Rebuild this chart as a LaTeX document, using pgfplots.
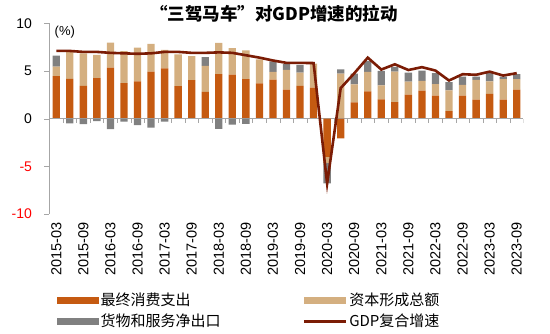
\documentclass[border=0pt]{standalone}
\usepackage{pgfplots}
\pgfplotsset{compat=1.18}
\usepackage{pgfplotstable}
\usepackage{fontspec}
\setmainfont{Liberation Sans}
\newfontfamily\cjk{Noto Sans CJK SC}
\definecolor{cons}{HTML}{C55A11}
\definecolor{capf}{HTML}{D4AF80}
\definecolor{netx}{HTML}{808080}
\definecolor{gdp}{HTML}{7B1C05}
\definecolor{axgray}{HTML}{A6A6A6}
\pgfplotstableread{
i c k n g
0 4.46 1.00 1.15 7.10
1 4.18 2.82 -0.50 7.10
2 3.45 3.39 -0.57 7.00
3 4.25 2.45 -0.25 7.00
4 5.35 2.63 -1.10 6.90
5 3.73 3.35 -0.32 6.85
6 3.90 3.56 -0.68 6.80
7 4.93 2.90 -0.93 6.85
8 5.28 1.92 -0.30 7.00
9 3.42 3.32 0.00 7.00
10 4.05 2.51 0.00 6.90
11 2.80 2.73 0.93 6.90
12 4.66 3.29 -1.07 6.95
13 4.63 2.76 -0.62 6.90
14 4.15 3.00 -0.55 6.65
15 3.70 2.52 0.00 6.40
16 4.10 0.80 1.10 6.10
17 3.05 2.06 0.60 5.85
18 3.45 1.38 0.80 5.85
19 3.25 2.52 0.00 5.83
20 -4.00 -0.60 -2.20 -6.80
21 -2.07 4.73 0.45 3.20
22 1.70 1.90 1.12 4.75
23 2.86 2.05 1.15 6.40
24 2.03 1.47 1.50 5.15
25 1.72 3.21 0.50 5.70
26 2.52 1.35 0.95 5.10
27 2.93 1.04 1.07 5.40
28 2.41 1.22 1.14 5.04
29 0.79 2.18 0.86 4.00
30 2.41 1.14 0.87 4.66
31 2.00 2.07 0.35 4.60
32 2.59 1.31 0.87 4.93
33 2.00 2.14 0.28 4.52
34 3.04 1.10 0.52 4.77
}\datatable
\pgfplotsset{
  barleg/.style={legend image code/.code={\fill[##1] (0pt,-3.5pt) rectangle (42pt,3.5pt);}},
  lineleg/.style={legend image code/.code={\draw[##1] (0pt,0pt) -- (42pt,0pt);}},
  common/.style={
    scale only axis, width=474pt, height=190.7pt,
    xmin=-0.5, xmax=34.5, ymin=-10, ymax=10,
    enlargelimits=false,
  },
}
\begin{document}
\begin{tikzpicture}
\useasboundingbox (-49.5pt,-120pt) rectangle (500.5pt,214pt);
% positive parts of the stacks
\begin{axis}[common,
  ybar stacked, bar width=0.54,
  axis y line*=left, axis x line*=bottom,
  x axis line style={draw=none},
  y axis line style={draw=axgray},
  xtick style={draw=none}, ytick style={draw=axgray},
  tick align=outside, major tick length=5pt,
  ytick={-10,-5,0,5,10},
  yticklabels={\textcolor{red}{-10},\textcolor{red}{-5},0,5,10},
  yticklabel style={font=\fontsize{14}{16}\selectfont, xshift=-9pt},
  xtick={0,2,...,34},
  xticklabels={2015-03,2015-09,2016-03,2016-09,2017-03,2017-09,2018-03,2018-09,2019-03,2019-09,2020-03,2020-09,2021-03,2021-09,2022-03,2022-09,2023-03,2023-09},
  xticklabel style={rotate=90, anchor=east, font=\fontsize{14.5}{16}\selectfont},
  legend columns=2,
  legend style={at={(rel axis cs:0,0)}, anchor=north west, xshift=7pt, yshift=-78pt,
    draw=none, fill=none, inner sep=0pt,
    font=\cjk\fontsize{15}{17}\selectfont,
    nodes={inner xsep=2pt, inner ysep=1pt, text height=12pt, text depth=3pt},
    /tikz/row sep=4pt,
    /tikz/every even column/.append style={column sep=80pt}},
  legend cell align=left,
]
\draw[axgray] (axis cs:-0.5,0) -- (axis cs:34.5,0);
\pgfplotsinvokeforeach{0.5,1.5,...,34.5}{\draw[axgray] (axis cs:#1,0) -- ++(0pt,-4pt);}
\addplot[fill=cons, draw=none, barleg] table[x=i, y expr={max(\thisrow{c},0)}] {\datatable};
\addlegendentry{最终消费支出}
\addplot[fill=capf, draw=none, barleg] table[x=i, y expr={max(\thisrow{k},0)}] {\datatable};
\addlegendentry{资本形成总额}
\addplot[fill=netx, draw=none, barleg] table[x=i, y expr={max(\thisrow{n},0)}] {\datatable};
\addlegendentry{货物和服务净出口}
\addlegendimage{lineleg, draw=gdp, line width=2.6pt}
\addlegendentry{GDP复合增速}
\end{axis}
% negative parts of the stacks
\begin{axis}[common, axis lines=none, ticks=none, ybar stacked, bar width=0.54]
\addplot[fill=cons, draw=none] table[x=i, y expr={min(\thisrow{c},0)}] {\datatable};
\addplot[fill=capf, draw=none] table[x=i, y expr={min(\thisrow{k},0)}] {\datatable};
\addplot[fill=netx, draw=none] table[x=i, y expr={min(\thisrow{n},0)}] {\datatable};
\end{axis}
% GDP line
\begin{axis}[common, axis lines=none, ticks=none]
\addplot[draw=gdp, line width=2.6pt, mark=none] table[x=i, y=g] {\datatable};
\end{axis}
\node[font=\cjk\bfseries\fontsize{17.5}{20}\selectfont] at (224.5pt,200pt) {“三驾马车”对GDP增速的拉动};
\node[anchor=west, font=\fontsize{13}{15}\selectfont, inner sep=0pt] at (5pt,182pt) {(\%)};
\end{tikzpicture}
\end{document}
